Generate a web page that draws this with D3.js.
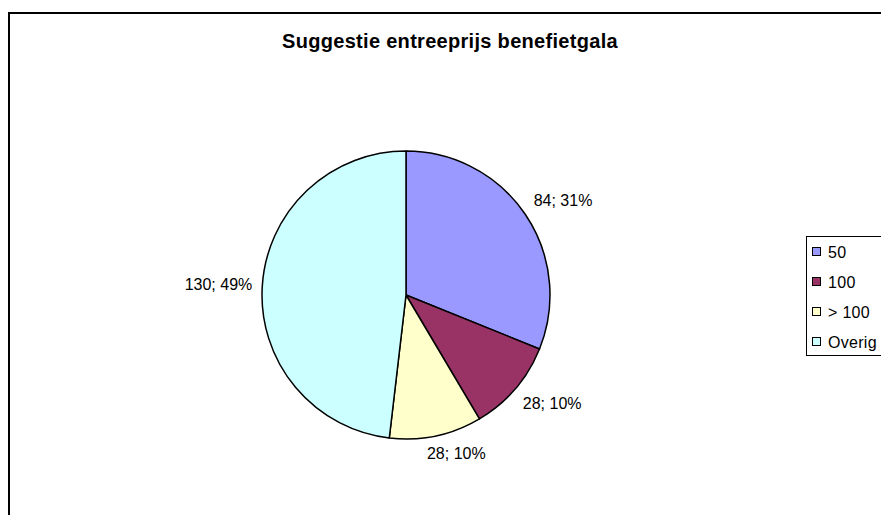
<!DOCTYPE html>
<html>
<head>
<meta charset="utf-8">
<script src="https://cdn.jsdelivr.net/npm/d3@7"></script>
<style>
    body { margin: 0; background: #fff; }
    svg { display: block; font-family: Arial, "Liberation Sans", sans-serif; }
</style>
</head>
<body>
<svg id="chart" width="881" height="515"></svg>
<script>
// data
const categories = ["50", "100", "> 100", "Overig"];
const counts = [84, 28, 28, 130];
const percents = [31, 10, 10, 49];
const sliceColors = ["#9999FF", "#993366", "#FFFFCC", "#CCFFFF"];

const width = 881, height = 515;
const cx = 406, cy = 295, radius = 144;
const labelDist = 154;

const svg = d3.select("#chart");

// outer chart frame (runs off the right and bottom edge)
svg.append("rect")
    .attr("x", 9)
    .attr("y", 13)
    .attr("width", 900)
    .attr("height", 520)
    .attr("fill", "#fff")
    .attr("stroke", "#000")
    .attr("stroke-width", 2);

svg.append("text")
    .attr("x", 450)
    .attr("y", 48)
    .attr("text-anchor", "middle")
    .style("font-size", "20px")
    .style("font-weight", "bold")
    .style("letter-spacing", "0.3px")
    .text("Suggestie entreeprijs benefietgala");

const pie = d3.pie().sort(null).value(d => d.count);
const slices = pie(categories.map((c, i) => ({ cat: c, count: counts[i], pct: percents[i], color: sliceColors[i] })));

const arc = d3.arc().innerRadius(0).outerRadius(radius);

const g = svg.append("g").attr("transform", `translate(${cx},${cy})`);

g.selectAll("path")
    .data(slices)
    .join("path")
    .attr("d", arc)
    .attr("fill", d => d.data.color)
    .attr("stroke", "#000")
    .attr("stroke-width", 1.5)
    .attr("stroke-linejoin", "round");

// labels: text box pushed outward from a circle just outside the pie
g.selectAll(".lbl")
    .data(slices)
    .join("text")
    .attr("class", "lbl")
    .style("font-size", "16px")
    .attr("text-anchor", "middle")
    .attr("dy", "0.35em")
    .text(d => `${d.data.count}; ${d.data.pct}%`)
    .each(function (d) {
        const a = (d.startAngle + d.endAngle) / 2;
        const s = Math.sin(a), c = Math.cos(a);
        const w = this.getComputedTextLength(), h = 16;
        const px = labelDist * s, py = -labelDist * c;
        const ox = Math.max(-1, Math.min(1, s * 3)) * w / 2;
        const oy = -Math.max(-1, Math.min(1, c * 3)) * h / 2;
        d3.select(this).attr("x", px + ox).attr("y", py + oy);
    });

// legend
const legend = svg.append("g").attr("transform", "translate(806,236)");

legend.append("rect")
    .attr("x", 0.5)
    .attr("y", 0.5)
    .attr("width", 100)
    .attr("height", 119)
    .attr("fill", "#fff")
    .attr("stroke", "#000")
    .attr("stroke-width", 1);

const rows = legend.selectAll(".row")
    .data(categories)
    .join("g")
    .attr("class", "row")
    .attr("transform", (d, i) => `translate(0,${15 + i * 30})`);

rows.append("rect")
    .attr("x", 6.5)
    .attr("y", -3.5)
    .attr("width", 8)
    .attr("height", 8)
    .attr("fill", (d, i) => sliceColors[i])
    .attr("stroke", "#000")
    .attr("stroke-width", 1);

rows.append("text")
    .attr("x", 22)
    .attr("y", 1)
    .attr("dy", "0.35em")
    .style("font-size", "16px")
    .style("letter-spacing", "0.3px")
    .text(d => d);
</script>
</body>
</html>
